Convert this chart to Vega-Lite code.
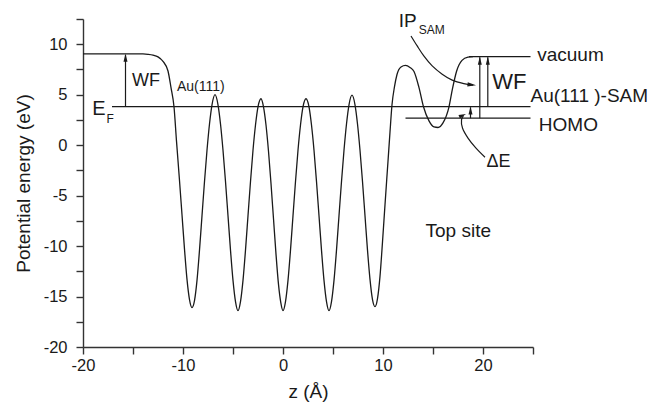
{
  "$schema": "https://vega.github.io/schema/vega-lite/v6.json",
  "width": 450,
  "height": 328,
  "autosize": {"type": "none"},
  "padding": {"left": 83, "top": 19, "right": 116, "bottom": 59},
  "background": "white",
  "config": {
    "view": {"stroke": null},
    "font": "Liberation Sans",
    "axis": {
      "grid": false,
      "domainColor": "#333333",
      "domainWidth": 1.4,
      "tickColor": "#333333",
      "tickWidth": 1.4,
      "tickSize": 7,
      "labelFont": "Liberation Sans",
      "labelFontSize": 16.5,
      "labelColor": "#1a1a1a",
      "labelFlush": false,
      "labelOverlap": false,
      "titleFont": "Liberation Sans",
      "titleFontSize": 19,
      "titleFontWeight": "normal",
      "titleColor": "#1a1a1a"
    }
  },
  "datasets": {
    "curve": [
      {"x": -20, "y": 9.05}, {"x": -17, "y": 9.05}, {"x": -15, "y": 9.05}, {"x": -14, "y": 9.04},
      {"x": -13.5, "y": 9.0}, {"x": -13, "y": 8.92}, {"x": -12.5, "y": 8.75}, {"x": -12.0, "y": 8.3},
      {"x": -11.5, "y": 7.35}, {"x": -11.2, "y": 5.7}, {"x": -10.9, "y": 3.8}, {"x": -10.65, "y": 0.4},
      {"x": -10.35, "y": -3.5}, {"x": -10.1, "y": -6.9}, {"x": -9.85, "y": -10.3}, {"x": -9.6, "y": -13.3},
      {"x": -9.35, "y": -15.3}, {"x": -9.1, "y": -16.1},
      {"x": -8.85, "y": -15.4}, {"x": -8.6, "y": -13.4}, {"x": -8.35, "y": -10.4}, {"x": -8.1, "y": -7.0},
      {"x": -7.85, "y": -3.6}, {"x": -7.6, "y": -0.5}, {"x": -7.35, "y": 2.1}, {"x": -7.1, "y": 4.0},
      {"x": -6.8, "y": 5.0},
      {"x": -6.5, "y": 4.0}, {"x": -6.25, "y": 2.1}, {"x": -6.0, "y": -0.5}, {"x": -5.75, "y": -3.6},
      {"x": -5.5, "y": -7.0}, {"x": -5.25, "y": -10.4}, {"x": -5.0, "y": -13.4}, {"x": -4.75, "y": -15.5},
      {"x": -4.5, "y": -16.4},
      {"x": -4.25, "y": -15.5}, {"x": -4.0, "y": -13.4}, {"x": -3.75, "y": -10.4}, {"x": -3.5, "y": -7.0},
      {"x": -3.25, "y": -3.6}, {"x": -3.0, "y": -0.5}, {"x": -2.75, "y": 2.0}, {"x": -2.5, "y": 3.8},
      {"x": -2.2, "y": 4.6},
      {"x": -1.95, "y": 3.8}, {"x": -1.7, "y": 2.0}, {"x": -1.45, "y": -0.6}, {"x": -1.2, "y": -3.8},
      {"x": -0.95, "y": -7.3}, {"x": -0.7, "y": -10.8}, {"x": -0.45, "y": -13.8}, {"x": -0.22, "y": -15.6},
      {"x": 0, "y": -16.4},
      {"x": 0.25, "y": -15.5}, {"x": 0.5, "y": -13.4}, {"x": 0.75, "y": -10.4}, {"x": 1.0, "y": -7.0},
      {"x": 1.25, "y": -3.6}, {"x": 1.5, "y": -0.5}, {"x": 1.75, "y": 2.0}, {"x": 2.0, "y": 3.8},
      {"x": 2.3, "y": 4.6},
      {"x": 2.6, "y": 3.8}, {"x": 2.85, "y": 2.0}, {"x": 3.1, "y": -0.5}, {"x": 3.35, "y": -3.6},
      {"x": 3.6, "y": -7.0}, {"x": 3.85, "y": -10.4}, {"x": 4.1, "y": -13.4}, {"x": 4.35, "y": -15.5},
      {"x": 4.6, "y": -16.4},
      {"x": 4.85, "y": -15.5}, {"x": 5.1, "y": -13.4}, {"x": 5.35, "y": -10.4}, {"x": 5.6, "y": -7.0},
      {"x": 5.85, "y": -3.6}, {"x": 6.1, "y": -0.5}, {"x": 6.35, "y": 2.1}, {"x": 6.6, "y": 4.0},
      {"x": 6.9, "y": 4.95},
      {"x": 7.2, "y": 4.0}, {"x": 7.45, "y": 2.1}, {"x": 7.7, "y": -0.5}, {"x": 7.95, "y": -3.6},
      {"x": 8.2, "y": -7.0}, {"x": 8.45, "y": -10.4}, {"x": 8.7, "y": -13.3}, {"x": 8.95, "y": -15.3},
      {"x": 9.2, "y": -16.0},
      {"x": 9.45, "y": -15.2}, {"x": 9.7, "y": -13.0}, {"x": 9.95, "y": -9.6}, {"x": 10.2, "y": -5.9},
      {"x": 10.5, "y": -1.6}, {"x": 10.7, "y": 1.3}, {"x": 10.9, "y": 4.0}, {"x": 11.15, "y": 5.8},
      {"x": 11.4, "y": 7.0}, {"x": 11.8, "y": 7.75}, {"x": 12.25, "y": 7.9},
      {"x": 12.7, "y": 7.7}, {"x": 13.1, "y": 7.3}, {"x": 13.6, "y": 5.7}, {"x": 14.05, "y": 3.8},
      {"x": 14.6, "y": 2.4}, {"x": 15.1, "y": 1.8}, {"x": 15.5, "y": 1.75}, {"x": 16.0, "y": 2.2},
      {"x": 16.6, "y": 3.8}, {"x": 16.95, "y": 5.6}, {"x": 17.35, "y": 7.3}, {"x": 17.9, "y": 8.4},
      {"x": 18.5, "y": 8.72}, {"x": 19.0, "y": 8.77}
    ]
  },
  "encoding": {
    "x": {
      "field": "x", "type": "quantitative",
      "scale": {"domain": [-20, 25], "nice": false, "zero": false},
      "axis": {
        "title": "z (Å)",
        "values": [-20, -15, -10, -5, 0, 5, 10, 15, 20, 25],
        "labelExpr": "datum.value % 10 == 0 ? '' + datum.value : ''",
        "labelPadding": 3,
        "titlePadding": 9
      }
    },
    "y": {
      "field": "y", "type": "quantitative",
      "scale": {"domain": [-20, 12.5], "nice": false, "zero": false},
      "axis": {
        "title": "Potential energy (eV)",
        "values": [-20, -17.5, -15, -12.5, -10, -7.5, -5, -2.5, 0, 2.5, 5, 7.5, 10, 12.5],
        "labelExpr": "datum.value % 5 == 0 ? '' + datum.value : ''",
        "labelPadding": 9,
        "titlePadding": 10
      }
    }
  },
  "layer": [
    {
      "data": {"name": "curve"},
      "mark": {"type": "line", "interpolate": "monotone", "color": "#1a1a1a", "strokeWidth": 1.3}
    },
    {
      "data": {"values": [
        {"level": "EF", "x": -17.1, "xe": 24.75, "y": 3.82},
        {"level": "HOMO", "x": 12.25, "xe": 24.75, "y": 2.67},
        {"level": "vacuum", "x": 18.6, "xe": 24.75, "y": 8.77}
      ]},
      "mark": {"type": "rule", "color": "#1a1a1a", "strokeWidth": 1.3},
      "encoding": {"x2": {"field": "xe"}}
    },
    {
      "data": {"values": [
        {"arrow": "WF Au(111)", "x": -15.75, "y": 3.82, "ye": 8.95},
        {"arrow": "IP SAM", "x": 19.68, "y": 2.67, "ye": 8.7},
        {"arrow": "WF Au(111)-SAM", "x": 20.48, "y": 3.82, "ye": 8.7},
        {"arrow": "dE", "x": 18.75, "y": 2.67, "ye": 3.75}
      ]},
      "mark": {"type": "rule", "color": "#1a1a1a", "strokeWidth": 1.2},
      "encoding": {"y2": {"field": "ye"}}
    },
    {
      "data": {"values": [
        {"x": -15.75, "y": 9.05},
        {"x": 19.68, "y": 8.77},
        {"x": 20.48, "y": 8.77},
        {"x": 18.75, "y": 3.82}
      ]},
      "mark": {"type": "point", "shape": "M0,0L-0.35,1.4L0.35,1.4Z", "size": 130, "filled": true, "color": "#1a1a1a", "opacity": 1}
    },
    {
      "data": {"values": [
        {"name": "IP", "i": 0, "x": 12.8, "y": 10.82},
        {"name": "IP", "i": 1, "x": 13.42, "y": 9.83},
        {"name": "IP", "i": 2, "x": 14.08, "y": 8.84},
        {"name": "IP", "i": 3, "x": 14.92, "y": 7.85},
        {"name": "IP", "i": 4, "x": 15.92, "y": 7.03},
        {"name": "IP", "i": 5, "x": 16.92, "y": 6.44},
        {"name": "IP", "i": 6, "x": 18.08, "y": 6.1},
        {"name": "IP", "i": 7, "x": 19.0, "y": 5.95},
        {"name": "dE", "i": 0, "x": 20.2, "y": -1.2},
        {"name": "dE", "i": 1, "x": 19.3, "y": -0.3},
        {"name": "dE", "i": 2, "x": 18.5, "y": 0.7},
        {"name": "dE", "i": 3, "x": 17.95, "y": 1.7},
        {"name": "dE", "i": 4, "x": 17.85, "y": 2.5},
        {"name": "dE", "i": 5, "x": 18.05, "y": 2.95}
      ]},
      "mark": {"type": "line", "interpolate": "catmull-rom", "color": "#1a1a1a", "strokeWidth": 1.2},
      "encoding": {
        "detail": {"field": "name"},
        "order": {"field": "i"}
      }
    },
    {
      "data": {"values": [{"x": 19.3, "y": 5.93}]},
      "mark": {"type": "point", "shape": "M0,0L-0.35,1.4L0.35,1.4Z", "size": 150, "angle": 97, "filled": true, "color": "#1a1a1a", "opacity": 1}
    },
    {
      "data": {"values": [{"x": 18.3, "y": 3.08}]},
      "mark": {"type": "point", "shape": "M0,0L-0.35,1.4L0.35,1.4Z", "size": 110, "angle": 68, "filled": true, "color": "#1a1a1a", "opacity": 1}
    },
    {
      "data": {"values": [{"x": -15.1, "y": 5.87, "t": "WF"}, {"x": 20.35, "y": -2.15, "t": "ΔE"}]},
      "mark": {"type": "text", "align": "left", "baseline": "alphabetic", "fontSize": 18, "color": "#1a1a1a", "font": "Liberation Sans"},
      "encoding": {"text": {"field": "t"}}
    },
    {
      "data": {"values": [{"x": -10.6, "y": 5.33, "t": "Au(111)"}]},
      "mark": {"type": "text", "align": "left", "baseline": "alphabetic", "fontSize": 14, "color": "#1a1a1a", "font": "Liberation Sans"},
      "encoding": {"text": {"field": "t"}}
    },
    {
      "data": {"values": [{"x": -19.08, "y": 2.97, "t": "E"}]},
      "mark": {"type": "text", "align": "left", "baseline": "alphabetic", "fontSize": 20, "color": "#1a1a1a", "font": "Liberation Sans"},
      "encoding": {"text": {"field": "t"}}
    },
    {
      "data": {"values": [{"x": -17.65, "y": 2.24, "t": "F"}, {"x": 13.58, "y": 10.99, "t": "SAM"}]},
      "mark": {"type": "text", "align": "left", "baseline": "alphabetic", "fontSize": 12, "color": "#1a1a1a", "font": "Liberation Sans"},
      "encoding": {"text": {"field": "t"}}
    },
    {
      "data": {"values": [
        {"x": 11.58, "y": 11.74, "t": "IP"},
        {"x": 25.42, "y": 8.35, "t": "vacuum"},
        {"x": 24.75, "y": 4.32, "t": "Au(111 )-SAM"},
        {"x": 25.58, "y": 1.42, "t": "HOMO"},
        {"x": 14.25, "y": -9.15, "t": "Top site"}
      ]},
      "mark": {"type": "text", "align": "left", "baseline": "alphabetic", "fontSize": 19, "color": "#1a1a1a", "font": "Liberation Sans"},
      "encoding": {"text": {"field": "t"}}
    },
    {
      "data": {"values": [{"x": 20.92, "y": 5.54, "t": "WF"}]},
      "mark": {"type": "text", "align": "left", "baseline": "alphabetic", "fontSize": 22, "color": "#1a1a1a", "font": "Liberation Sans"},
      "encoding": {"text": {"field": "t"}}
    }
  ]
}
